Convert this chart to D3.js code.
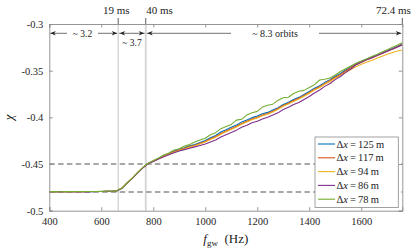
<!DOCTYPE html>
<html><head><meta charset="utf-8">
<script src="https://cdn.jsdelivr.net/npm/d3@7"></script>
<style>
html,body{margin:0;padding:0;background:#fff;}
</style></head>
<body><svg id="c" width="415" height="249"></svg>
<script>
// ---- data ----
const freq = [400,420,440,460,480,500,520,540,560,580,600,620,640,660,680,700,720,740,760,780,
800,820,840,860,880,900,920,940,960,980,1000,1020,1040,1060,1080,1100,1120,1140,1160,1180,
1200,1220,1240,1260,1280,1300,1320,1340,1360,1380,1400,1420,1440,1460,1480,1500,1520,1540,1560,1580,
1600,1620,1640,1660,1680,1700,1720,1740,1758];

const chi125 = [-0.4797,-0.4796,-0.4797,-0.4796,-0.4797,-0.4796,-0.4796,-0.4795,-0.4796,-0.4795,-0.4794,-0.4793,-0.4792,-0.4788,-0.4760,-0.4702,-0.4650,-0.4592,-0.4538,-0.4494,
-0.4468,-0.4440,-0.4413,-0.4388,-0.4364,-0.4342,-0.4327,-0.4305,-0.4291,-0.4270,-0.4249,-0.4219,-0.4194,-0.4157,-0.4133,-0.4107,-0.4083,-0.4051,-0.4029,-0.4003,
-0.3986,-0.3962,-0.3947,-0.3922,-0.3896,-0.3862,-0.3839,-0.3809,-0.3786,-0.3755,-0.3723,-0.3687,-0.3661,-0.3625,-0.3596,-0.3559,-0.3531,-0.3493,-0.3459,-0.3423,
-0.3401,-0.3376,-0.3356,-0.3332,-0.3311,-0.3284,-0.3263,-0.3237,-0.3214];

const chi117 = [-0.4797,-0.4797,-0.4796,-0.4797,-0.4796,-0.4796,-0.4795,-0.4796,-0.4795,-0.4795,-0.4794,-0.4793,-0.4791,-0.4787,-0.4758,-0.4703,-0.4651,-0.4593,-0.4540,-0.4495,
-0.4470,-0.4443,-0.4416,-0.4392,-0.4369,-0.4349,-0.4332,-0.4313,-0.4298,-0.4278,-0.4258,-0.4230,-0.4205,-0.4172,-0.4147,-0.4122,-0.4096,-0.4066,-0.4042,-0.4018,
-0.3998,-0.3975,-0.3958,-0.3934,-0.3906,-0.3874,-0.3849,-0.3820,-0.3795,-0.3766,-0.3733,-0.3698,-0.3671,-0.3636,-0.3606,-0.3570,-0.3540,-0.3503,-0.3468,-0.3433,
-0.3409,-0.3385,-0.3363,-0.3340,-0.3317,-0.3292,-0.3269,-0.3244,-0.3220];

const chi94 = [-0.4796,-0.4797,-0.4796,-0.4796,-0.4797,-0.4795,-0.4796,-0.4795,-0.4795,-0.4794,-0.4794,-0.4792,-0.4791,-0.4786,-0.4757,-0.4701,-0.4649,-0.4592,-0.4539,-0.4496,
-0.4471,-0.4445,-0.4419,-0.4396,-0.4374,-0.4354,-0.4338,-0.4319,-0.4304,-0.4285,-0.4265,-0.4238,-0.4213,-0.4180,-0.4155,-0.4130,-0.4104,-0.4074,-0.4050,-0.4026,
-0.4006,-0.3983,-0.3966,-0.3942,-0.3914,-0.3882,-0.3858,-0.3829,-0.3804,-0.3775,-0.3742,-0.3708,-0.3680,-0.3646,-0.3616,-0.3582,-0.3552,-0.3520,-0.3488,-0.3458,
-0.3432,-0.3410,-0.3390,-0.3367,-0.3345,-0.3325,-0.3306,-0.3290,-0.3278];

const chi86 = [-0.4797,-0.4796,-0.4796,-0.4797,-0.4796,-0.4796,-0.4796,-0.4795,-0.4796,-0.4794,-0.4794,-0.4793,-0.4792,-0.4787,-0.4759,-0.4702,-0.4651,-0.4594,-0.4541,-0.4497,
-0.4472,-0.4447,-0.4421,-0.4400,-0.4380,-0.4360,-0.4346,-0.4330,-0.4316,-0.4301,-0.4286,-0.4263,-0.4242,-0.4210,-0.4187,-0.4163,-0.4137,-0.4106,-0.4084,-0.4058,
-0.4042,-0.4018,-0.4000,-0.3976,-0.3952,-0.3916,-0.3892,-0.3863,-0.3840,-0.3808,-0.3777,-0.3740,-0.3707,-0.3668,-0.3637,-0.3596,-0.3562,-0.3518,-0.3482,-0.3438,
-0.3411,-0.3384,-0.3363,-0.3337,-0.3316,-0.3291,-0.3271,-0.3247,-0.3225];

const chi78 = [-0.4796,-0.4795,-0.4797,-0.4795,-0.4796,-0.4795,-0.4795,-0.4794,-0.4795,-0.4794,-0.4793,-0.4792,-0.4790,-0.4785,-0.4756,-0.4700,-0.4648,-0.4590,-0.4536,-0.4492,
-0.4463,-0.4436,-0.4404,-0.4381,-0.4350,-0.4336,-0.4308,-0.4292,-0.4265,-0.4242,-0.4223,-0.4186,-0.4164,-0.4121,-0.4099,-0.4076,-0.4030,-0.4021,-0.3974,-0.3950,
-0.3936,-0.3890,-0.3871,-0.3859,-0.3816,-0.3790,-0.3784,-0.3745,-0.3721,-0.3711,-0.3681,-0.3650,-0.3600,-0.3591,-0.3579,-0.3546,-0.3509,-0.3479,-0.3449,-0.3421,
-0.3397,-0.3376,-0.3349,-0.3326,-0.3299,-0.3276,-0.3249,-0.3226,-0.3200];

const seriesRes = ["125","117","94","86","78"];
const seriesColors = ["#0072BD","#D95319","#EDB120","#7E2F8E","#77AC30"];
const seriesValues = [chi125, chi117, chi94, chi86, chi78];

const xTicks = [400,600,800,1000,1200,1400,1600];
const yTicks = [-0.5,-0.45,-0.4,-0.35,-0.3];
const yTickLabels = ["-0.5","-0.45","-0.4","-0.35","-0.3"];
const refLevels = [-0.45,-0.48];
const markFreq = [665, 771, 1758];
const markLabels = ["19 ms","40 ms","72.4 ms"];
const orbitLabels = ["~ 3.2","~ 3.7","~ 8.3 orbits"];

// ---- layout ----
const FONT = "'Liberation Serif','DejaVu Serif',serif";
const L = 49.3, R = 402.3, T = 24, B = 210.7;
const x = d3.scaleLinear().domain([400,1758]).range([L,R]);
const y = d3.scaleLinear().domain([-0.5,-0.3]).range([B,T]);
const svg = d3.select("#c");

svg.append("defs").append("clipPath").attr("id","clip")
  .append("rect").attr("x",L).attr("y",T).attr("width",R-L).attr("height",B-T);

svg.append("line").attr("x1",x(markFreq[0])).attr("x2",x(markFreq[0])).attr("y1",T).attr("y2",B)
  .attr("stroke","#c4c4c4").attr("stroke-width",1);
svg.append("line").attr("x1",x(markFreq[1])).attr("x2",x(markFreq[1])).attr("y1",T).attr("y2",B)
  .attr("stroke","#d4d4d4").attr("stroke-width",1.8);

refLevels.forEach(v=>{
  svg.append("line").attr("x1",L).attr("x2",R).attr("y1",y(v)).attr("y2",y(v))
    .attr("stroke","#8c8c8c").attr("stroke-width",1.4).attr("stroke-dasharray","5.5,3.3");
});

const line = d3.line().x((d,i)=>x(freq[i])).y(d=>y(d));
const g = svg.append("g").attr("clip-path","url(#clip)");
seriesValues.forEach((vals,k)=>{
  g.append("path").attr("d",line(vals)).attr("fill","none")
    .attr("stroke",seriesColors[k]).attr("stroke-width",1.1).attr("stroke-linejoin","round");
});

const axisCol = "#8a8a8a";
const xb = d3.axisBottom(x).tickValues(xTicks).tickSize(-3.5).tickPadding(7).tickFormat(d3.format("d"));
const xt = d3.axisTop(x).tickValues(xTicks).tickSize(-3.5).tickFormat("");
const yl = d3.axisLeft(y).tickValues(yTicks).tickSize(-3.5).tickPadding(6).tickFormat((d,i)=>yTickLabels[i]);
const yr = d3.axisRight(y).tickValues(yTicks).tickSize(-3.5).tickFormat("");
function styleAxis(sel){
  sel.attr("font-family",FONT).attr("font-size",10.5);
  sel.select(".domain").attr("stroke",axisCol).attr("stroke-width",0.9);
  sel.selectAll(".tick line").attr("stroke",axisCol).attr("stroke-width",0.9);
  sel.selectAll(".tick text").attr("fill","#262626");
}
styleAxis(svg.append("g").attr("transform",`translate(0,${B})`).call(xb));
styleAxis(svg.append("g").attr("transform",`translate(0,${T})`).call(xt));
styleAxis(svg.append("g").attr("transform",`translate(${L},0)`).call(yl));
styleAxis(svg.append("g").attr("transform",`translate(${R},0)`).call(yr));
svg.selectAll(".domain").attr("d",function(){return d3.select(this).attr("d").replace(/V[-\d.]+V/,"V").replace(/H[-\d.]+H/,"H");});

markFreq.forEach((f,i)=>{
  svg.append("line").attr("x1",x(f)).attr("x2",x(f)).attr("y1",18).attr("y2",T)
    .attr("stroke","#333").attr("stroke-width",0.8);
});
const topLab = [{x:x(markFreq[0])-2,a:"middle"},{x:x(markFreq[1])+0.5,a:"start"},{x:x(markFreq[2])-9,a:"middle"}];
markLabels.forEach((t,i)=>{
  svg.append("text").attr("x",topLab[i].x).attr("y",14).attr("text-anchor",topLab[i].a)
    .attr("font-family",FONT).attr("fill","#222").attr("font-size",11).text(t);
});

const ay = 33.3;
function arrowHead(xp, dir){
  const l=5.5, w=2.2;
  svg.append("path").attr("d",`M${xp},${ay} L${xp-dir*l},${ay-w} L${xp-dir*l*0.7},${ay} L${xp-dir*l},${ay+w} Z`)
    .attr("fill","#222");
}
function seg(x1,x2){
  svg.append("line").attr("x1",x1).attr("x2",x2).attr("y1",ay).attr("y2",ay)
    .attr("stroke","#333").attr("stroke-width",0.7);
}
const x19 = x(markFreq[0]), x40 = x(markFreq[1]), xe = x(markFreq[2]);
seg(L+1,67); seg(98,x19-1); arrowHead(L+1,-1); arrowHead(x19-1,1);
svg.append("text").attr("x",82.5).attr("y",ay+3.5).attr("text-anchor","middle")
  .attr("font-family",FONT).attr("font-size",9.5).attr("fill","#222").text(orbitLabels[0]);
seg(x19+1,x40-1); arrowHead(x19+1.5,-1); arrowHead(x40-1.5,1);
svg.append("text").attr("x",(x19+x40)/2).attr("y",46).attr("text-anchor","middle")
  .attr("font-family",FONT).attr("font-size",9.5).attr("fill","#222").text(orbitLabels[1]);
seg(x40+1,231); seg(319,xe-1); arrowHead(x40+1.5,-1); arrowHead(xe-1,1);
svg.append("text").attr("x",275).attr("y",ay+3.5).attr("text-anchor","middle")
  .attr("font-family",FONT).attr("font-size",10).attr("fill","#222").text(orbitLabels[2]);

svg.append("text").attr("transform",`translate(13,${(T+B)/2}) rotate(-90)`).attr("text-anchor","middle")
  .attr("font-family",FONT).attr("font-size",13).attr("font-style","italic").attr("fill","#222").text("\u03c7");
const xl = svg.append("text").attr("x",(L+R)/2).attr("y",243).attr("text-anchor","middle")
  .attr("font-family",FONT).attr("font-size",13).attr("fill","#222");
xl.append("tspan").attr("font-style","italic").text("f");
xl.append("tspan").attr("dy",3).attr("font-size",9).text("gw");
xl.append("tspan").attr("dy",-3).text("\u2002(Hz)");

const lg = svg.append("g");
lg.append("rect").attr("x",315).attr("y",137).attr("width",83.3).attr("height",70.5)
  .attr("fill","#fff").attr("stroke","#8a8a8a").attr("stroke-width",0.8);
seriesRes.forEach((n,k)=>{
  const yy = 144 + k*13.8;
  lg.append("line").attr("x1",318).attr("x2",335).attr("y1",yy).attr("y2",yy)
    .attr("stroke",seriesColors[k]).attr("stroke-width",1.1);
  const t = lg.append("text").attr("x",336.5).attr("y",yy+3.6).attr("font-family",FONT)
    .attr("font-size",10.5).attr("fill","#222");
  t.append("tspan").text("\u0394");
  t.append("tspan").attr("font-style","italic").text("x");
  t.append("tspan").text("\u2009=\u2009" + n + "\u2009m");
});
</script></body></html>
